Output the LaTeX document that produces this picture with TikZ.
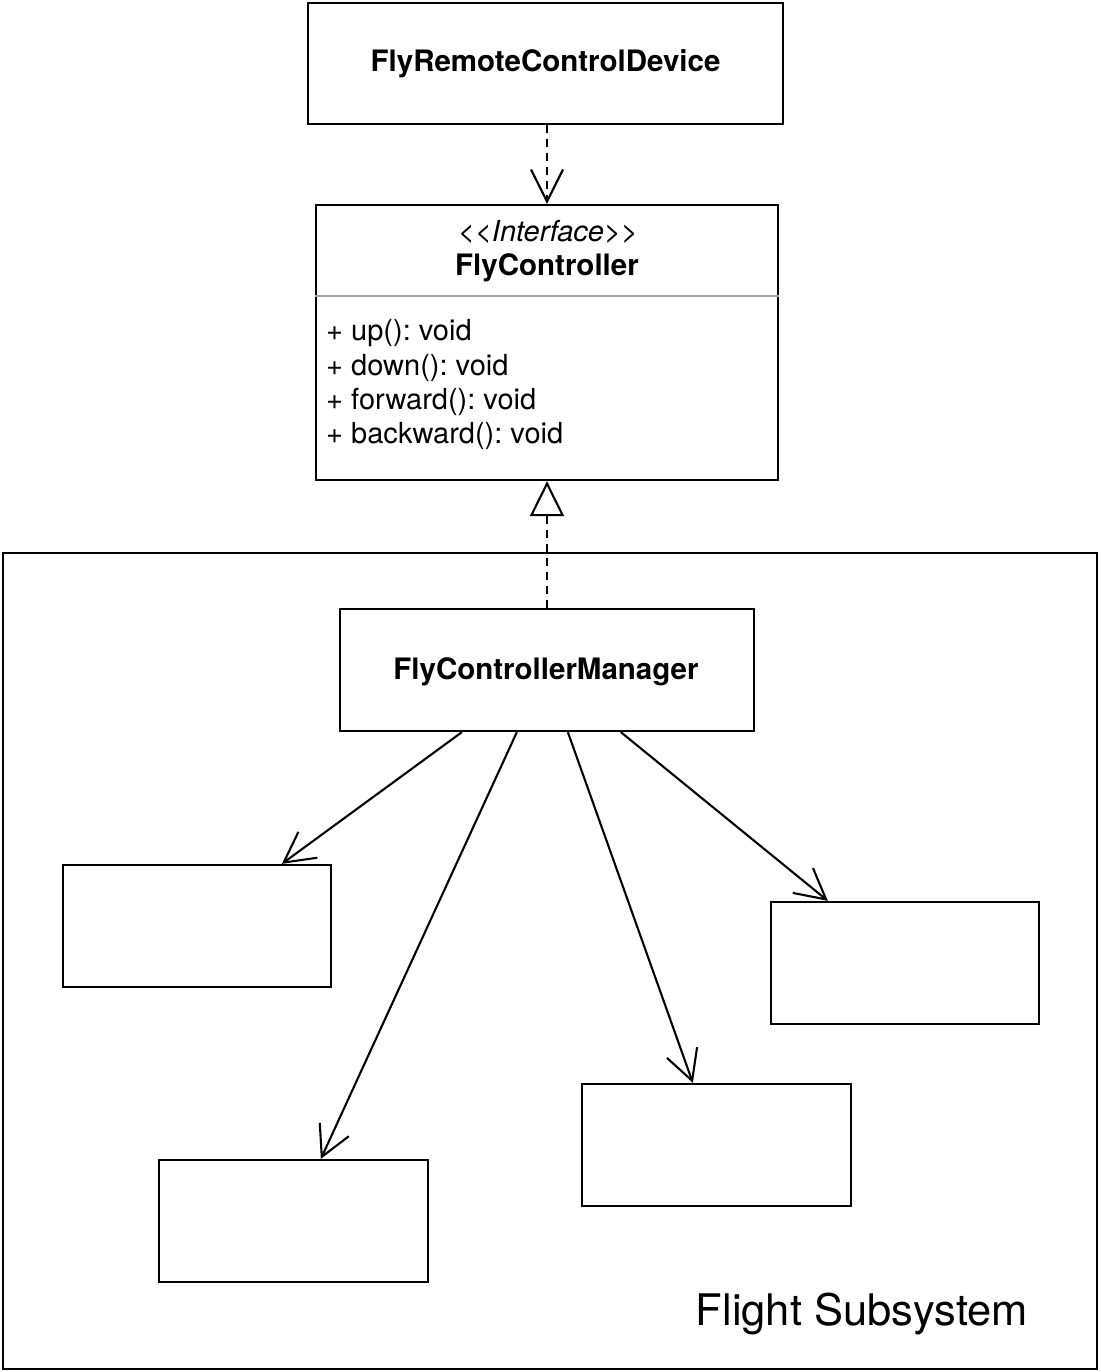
\documentclass[tikz,border=0pt]{standalone}
\usepackage{fontspec}
\setmainfont{TeX Gyre Heros}
\usetikzlibrary{arrows.meta,calc}
\frenchspacing
\tikzset{
  box/.style={draw=black, line width=2.3pt, rectangle, inner sep=0pt},
  lbl/.style={inner sep=0pt, anchor=base, font=\fontsize{29}{34}\selectfont},
  meth/.style={inner sep=0pt, anchor=base west, font=\fontsize{29}{34}\selectfont},
  assoc/.style={line width=2.1pt, -{Straight Barb[length=30pt,width=32pt,line width=2.1pt]}},
  dep/.style={line width=2.1pt, dash pattern=on 8pt off 6pt, -{Straight Barb[length=32pt,width=32pt,line width=2.1pt]}},
  real/.style={line width=2.1pt, dash pattern=on 8pt off 6pt, -{Triangle[open,length=35pt,width=34pt,line width=2.1pt,fill=white]}}
}
\begin{document}
\begin{tikzpicture}[x=1pt,y=-1pt]
\useasboundingbox (0,0) rectangle (1100,1372);
% subsystem frame
\node[box, minimum width=1094pt, minimum height=816pt] (frame) at (550,961) {};
\node[lbl, font=\fontsize{43.5}{50}\selectfont] (ftitle) at (862,1325) {Flight Subsystem};
% top device
\node[box, minimum width=475pt, minimum height=121pt] (dev) at (545.5,63.5) {};
\node[lbl, font=\fontsize{29.5}{34}\selectfont\bfseries] (devl) at (545.5,72) {FlyRemoteControlDevice};
% interface
\node[box, minimum width=462pt, minimum height=275pt] (fc) at (547,342.5) {};
\node[lbl, font=\fontsize{29}{34}\selectfont\itshape] (fcst) at (548,241) {{<}{<}Interface{>}{>}};
\node[lbl, font=\fontsize{29.5}{34}\selectfont\bfseries] (fcn) at (547,275) {FlyController};
\draw[line width=1.6pt, black!35] ([yshift=-92pt]fc.north west) coordinate (sepl) -- ([yshift=-92pt]fc.north east) coordinate (sepr);
\node[meth] (m1) at (326,340) {+ up(): void};
\node[meth] (m2) at (326,375) {+ down(): void};
\node[meth] (m3) at (326,409) {+ forward(): void};
\node[meth] (m4) at (326,443) {+ backward(): void};
% manager
\node[box, minimum width=414pt, minimum height=122pt] (mgr) at (547,670) {};
\node[lbl, font=\fontsize{29.5}{34}\selectfont\bfseries] (mgrl) at (546,679) {FlyControllerManager};
% empty classes
\node[box, minimum width=268pt, minimum height=122pt] (ca) at (197,926) {};
\node[box, minimum width=268pt, minimum height=122pt] (cb) at (905,963) {};
\node[box, minimum width=269pt, minimum height=122pt] (cc) at (293.5,1221) {};
\node[box, minimum width=269pt, minimum height=122pt] (cd) at (716.5,1145) {};
% connectors
\draw[dep] (dev.south) ++(1.5pt,0) -- (fc.north);
\draw[real] (mgr.north) -- (fc.south);
\draw[assoc] ([xshift=123pt]mgr.south west) -- ([xshift=220pt]ca.north west);
\draw[assoc] ([xshift=178pt]mgr.south west) -- ([xshift=163pt]cc.north west);
\draw[assoc] ([xshift=229pt]mgr.south west) -- ([xshift=112pt]cd.north west);
\draw[assoc] ([xshift=282pt]mgr.south west) -- ([xshift=58pt]cb.north west);
\end{tikzpicture}
\end{document}
